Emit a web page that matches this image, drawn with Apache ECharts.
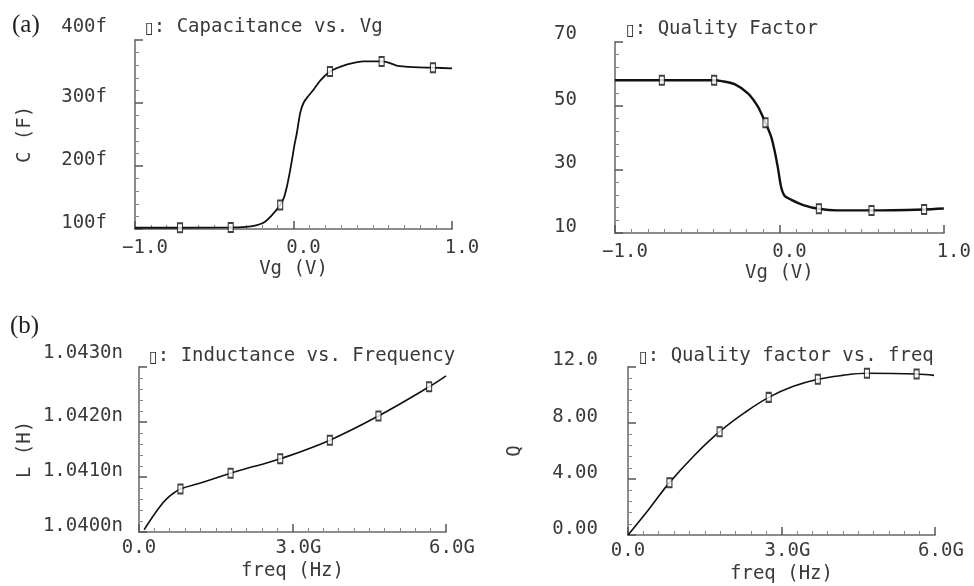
<!DOCTYPE html>
<html>
<head>
<meta charset="utf-8">
<script src="https://cdn.jsdelivr.net/npm/echarts@6/dist/echarts.min.js"></script>
<style>
  html, body { margin: 0; padding: 0; background: #ffffff; }
  #chart { width: 974px; height: 586px; }
</style>
</head>
<body>
<div id="chart"></div>
<script>
// ---------- Panel (a) left: Capacitance vs. Vg ----------
const vgCap = [-1.0, -0.72, -0.4, -0.3, -0.25, -0.19, -0.14, -0.084, -0.06, -0.042, -0.025, -0.01, 0.005, 0.021, 0.042, 0.063, 0.09, 0.126, 0.17, 0.23, 0.28, 0.335, 0.44, 0.556, 0.6, 0.65, 0.756, 0.88, 1.0];
const capF  = [102, 102, 102.5, 103.5, 105, 110, 121, 138, 150, 167, 188, 209, 232, 252, 284, 300, 310, 321, 336, 350, 356, 361, 366, 366, 364, 359.5, 357, 356, 355];
const vgCapMk = [-0.716, -0.396, -0.084, 0.23, 0.556, 0.88];
const capMk   = [102, 102.5, 138, 350, 366, 356];

// ---------- Panel (a) right: Quality Factor vs. Vg ----------
const vgQ = [-1.0, -0.715, -0.397, -0.35, -0.27, -0.19, -0.13, -0.085, -0.05, -0.03, -0.01, 0.01, 0.03, 0.07, 0.15, 0.24, 0.35, 0.56, 0.88, 1.0];
const qVg = [58, 58, 58, 57.7, 56.7, 53.8, 49.6, 44.6, 40.2, 36, 30.7, 24.5, 21.8, 20.5, 18.7, 17.6, 17.1, 17.1, 17.4, 17.7];
const vgQMk = [-0.715, -0.397, -0.085, 0.24, 0.56, 0.88];
const qVgMk = [58, 58, 44.6, 17.6, 17.1, 17.4];

// ---------- Panel (b) left: Inductance vs. Frequency (GHz, nH) ----------
const fL = [0.1, 0.36, 0.55, 0.81, 1.2, 1.79, 2.24, 2.76, 3.73, 4.68, 5.67, 6.0];
const indL = [1.04004, 1.0404, 1.04061, 1.04078, 1.04089, 1.04107, 1.04119, 1.04133, 1.04167, 1.04211, 1.04264, 1.04284];
const fLMk = [0.81, 1.79, 2.76, 3.73, 4.68, 5.67];
const indLMk = [1.04078, 1.04107, 1.04133, 1.04167, 1.04211, 1.04264];

// ---------- Panel (b) right: Quality factor vs. freq ----------
const fQ = [0, 0.42, 0.81, 1.3, 1.79, 2.28, 2.75, 3.22, 3.71, 4.19, 4.67, 5.64, 5.98];
const qF = [0, 1.9, 3.74, 5.7, 7.38, 8.74, 9.83, 10.6, 11.12, 11.4, 11.55, 11.5, 11.4];
const fQMk = [0.81, 1.79, 2.75, 3.71, 4.67, 5.64];
const qFMk = [3.74, 7.38, 9.83, 11.12, 11.55, 11.5];

// ---------- Text ----------
const panelTitles = ['Capacitance vs. Vg', 'Quality Factor', 'Inductance vs. Frequency', 'Quality factor vs. freq'];
const xNames = ['Vg (V)', 'Vg (V)', 'freq (Hz)', 'freq (Hz)'];
const yNames = ['C (F)', '', 'L (H)', 'Q'];

const FONT = "'DejaVu Sans Mono', 'Liberation Mono', monospace";
const TXT = '#3a3a3a';
const AXC = '#8c8c8c';

const pairs = (xs, ys) => xs.map((x, i) => [x, ys[i]]);

const grids = [
  { left: 135, top: 40, width: 317, height: 189 },
  { left: 615, top: 42, width: 332, height: 191 },
  { left: 139, top: 367, width: 307, height: 165 },
  { left: 628, top: 367, width: 307, height: 168 }
];

function xAxisBase(i, min, max, interval, fmt, labelOpts, nameGap) {
  return {
    type: 'value', gridIndex: i, min: min, max: max, interval: interval,
    name: xNames[i], nameLocation: 'middle', nameGap: nameGap,
    nameTextStyle: { fontFamily: FONT, fontSize: 19, color: TXT },
    axisLine: { show: true, onZero: false, lineStyle: { color: AXC, width: 2 } },
    axisTick: { show: true, inside: true, length: 8, lineStyle: { color: '#555', width: 1.5 } },
    minorTick: { show: true, splitNumber: 10, length: 4, lineStyle: { color: '#888', width: 1 } },
    splitLine: { show: false },
    axisLabel: Object.assign({ fontFamily: FONT, fontSize: 19, color: TXT, formatter: fmt, showMinLabel: true, showMaxLabel: true, hideOverlap: false }, labelOpts)
  };
}

function yAxisBase(i, min, max, interval, fmt, margin, nameGap, topShift) {
  return {
    type: 'value', gridIndex: i, min: min, max: max, interval: interval,
    name: yNames[i], nameLocation: 'middle', nameGap: nameGap, nameRotate: 90,
    nameTextStyle: { fontFamily: FONT, fontSize: 19, color: TXT },
    axisLine: { show: true, onZero: false, lineStyle: { color: AXC, width: 2 } },
    axisTick: { show: true, inside: true, length: 8, lineStyle: { color: '#555', width: 1.5 } },
    minorTick: { show: true, splitNumber: 5, length: 4, lineStyle: { color: '#888', width: 1 } },
    splitLine: { show: false },
    axisLabel: {
      fontFamily: FONT, fontSize: 19, color: TXT, margin: margin,
      showMinLabel: true, showMaxLabel: true,
      formatter: function (v) {
        const s = fmt(v);
        return Math.abs(v - max) < 1e-9 ? '{t|' + s + '}' : '{n|' + s + '}';
      },
      rich: {
        n: { fontFamily: FONT, fontSize: 19, color: TXT, padding: [0, 0, 12, 0] },
        t: { fontFamily: FONT, fontSize: 19, color: TXT, padding: [0, 0, topShift, 0] }
      }
    }
  };
}

const vgFmt = v => (v < 0 ? '\u2212' : '') + Math.abs(v).toFixed(1);
const fLabelFmt = v => v === 0 ? '{z|0.0}' : '{g|' + v.toFixed(1) + 'G}';
const fRich = { z: { fontFamily: FONT, fontSize: 19, color: TXT }, g: { fontFamily: FONT, fontSize: 19, color: TXT, padding: [0, 0, 0, 12] } };

const xAxes = [
  xAxisBase(0, -1, 1, 1, vgFmt, { margin: 10, padding: [0, 0, 0, 20] }, 31),
  xAxisBase(1, -1, 1, 1, vgFmt, { margin: 10, padding: [0, 0, 0, 20] }, 31),
  xAxisBase(2, 0, 6, 3, fLabelFmt, { margin: 7, rich: fRich }, 30),
  xAxisBase(3, 0, 6, 3, fLabelFmt, { margin: 7, rich: fRich }, 30)
];

const yAxes = [
  yAxisBase(0, 100, 400, 100, v => Math.round(v) + 'f', 28, 100, 26),
  yAxisBase(1, 10, 70, 20, v => String(Math.round(v)), 38, 100, 16),
  yAxisBase(2, 1.04, 1.043, 0.001, v => v.toFixed(4) + 'n', 16, 104, 28),
  yAxisBase(3, 0, 12, 4, v => v.toPrecision(3), 30, 103, 14)
];

function lineSeries(i, xs, ys, w, sm) {
  return {
    type: 'line', xAxisIndex: i, yAxisIndex: i, data: pairs(xs, ys),
    showSymbol: false, smooth: sm,
    lineStyle: { color: '#111', width: w }, silent: true, z: 3
  };
}
function markSeries(i, xs, ys) {
  return {
    type: 'scatter', xAxisIndex: i, yAxisIndex: i, data: pairs(xs, ys),
    symbol: 'rect', symbolSize: [5, 9],
    itemStyle: { color: '#ffffff', borderColor: '#111', borderWidth: 1.5 },
    silent: true, z: 4
  };
}

const titleLeft = [140, 621, 144, 634];
const titleTop = [12, 14, 341, 341];
const titles = panelTitles.map((t, i) => ({
  text: '{m|\u25AF}{t|: ' + t + '}',
  left: titleLeft[i], top: titleTop[i],
  textStyle: {
    fontWeight: 'normal',
    rich: {
      m: { fontFamily: "'DejaVu Sans'", fontSize: 16, fontWeight: 'normal', color: '#333', padding: [4, 0, 0, 0] },
      t: { fontFamily: FONT, fontSize: 19, fontWeight: 'normal', color: TXT }
    }
  }
}));

const chart = echarts.init(document.getElementById('chart'), null, { renderer: 'canvas' });
chart.setOption({
  backgroundColor: '#ffffff',
  animation: false,
  title: titles,
  grid: grids,
  xAxis: xAxes,
  yAxis: yAxes,
  graphic: [
    { type: 'text', left: 12, top: 13, style: { text: '(a)', font: "25px 'Liberation Serif'", fill: '#222' } },
    { type: 'text', left: 10, top: 314, style: { text: '(b)', font: "25px 'Liberation Serif'", fill: '#222' } }
  ],
  series: [
    lineSeries(0, vgCap, capF, 1.8, 0.25), markSeries(0, vgCapMk, capMk),
    lineSeries(1, vgQ, qVg, 2.4, 0.25), markSeries(1, vgQMk, qVgMk),
    lineSeries(2, fL, indL, 1.6, 0.4), markSeries(2, fLMk, indLMk),
    lineSeries(3, fQ, qF, 1.6, 0.4), markSeries(3, fQMk, qFMk)
  ]
});
</script>
</body>
</html>
